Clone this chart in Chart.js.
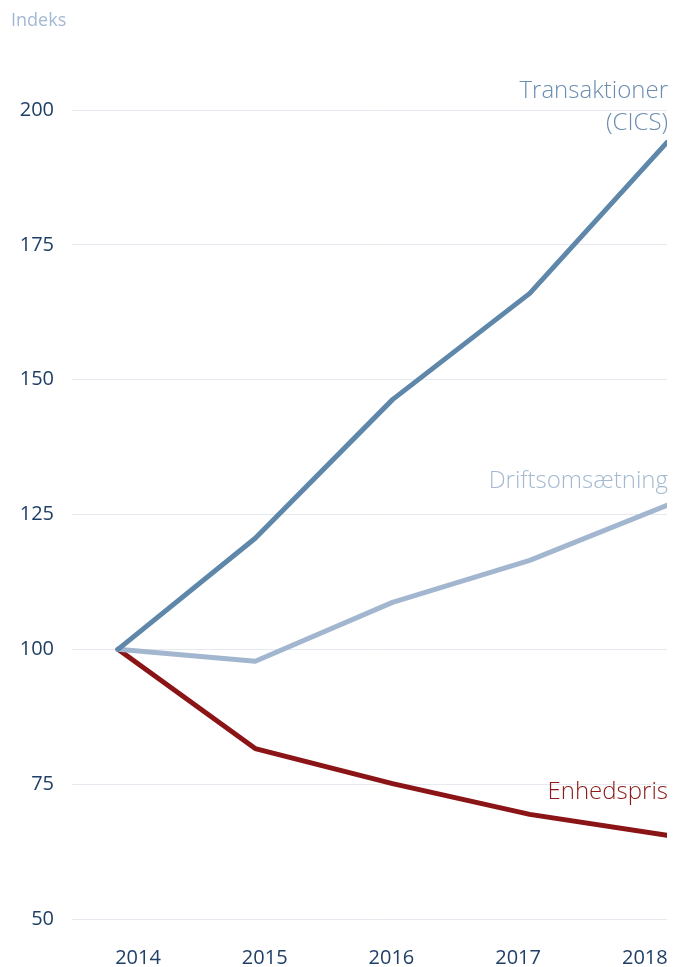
<!DOCTYPE html>
<html><head><meta charset="utf-8">
<script src="https://cdn.jsdelivr.net/npm/chart.js@4.4.0/dist/chart.umd.min.js"></script>
<style>html,body{margin:0;padding:0;background:#fff}#wrap{width:674px;height:967px;position:relative}</style>
</head><body><div id="wrap"><canvas id="c"></canvas></div>
<script>
const years = [2014, 2015, 2016, 2017, 2018];
const transaktioner = [100, 120.6, 146.3, 166.0, 194.0];
const driftsomsaetning = [100, 97.8, 108.7, 116.5, 126.7];
const enhedspris = [100, 81.6, 75.1, 69.4, 65.5];
const yTicks = [50, 75, 100, 125, 150, 175, 200];
const seriesLabels = [
  {lines: ['Transaktioner', '(CICS)'], values: [203.5, 197.5], color: '#6a8db0'},
  {lines: ['Driftsomsætning'], values: [131.2], color: '#a4b9d1'},
  {lines: ['Enhedspris'], values: [73.5], color: '#8b1a1a'}
];
const FONT = "'Open Sans', Roboto, sans-serif";

const pts = arr => arr.map((v, i) => ({x: years[i], y: v}));

const labelPlugin = {
  id: 'labels',
  afterDraw(chart) {
    const ctx = chart.ctx, y = chart.scales.y, area = chart.chartArea;
    ctx.save();
    ctx.font = "300 24px " + FONT;
    ctx.textAlign = 'right';
    ctx.textBaseline = 'middle';
    seriesLabels.forEach(s => {
      ctx.fillStyle = s.color;
      s.lines.forEach((t, i) => ctx.fillText(t, area.right + 1, y.getPixelForValue(s.values[i])));
    });
    ctx.fillStyle = '#a3b8d2';
    ctx.font = "18px " + FONT;
    ctx.textAlign = 'left';
    ctx.fillText('Indeks', 11, 21);
    ctx.restore();
  }
};

new Chart(document.getElementById('c'), {
  type: 'line',
  data: {
    datasets: [
      {data: pts(transaktioner), borderColor: '#5f87aa'},
      {data: pts(driftsomsaetning), borderColor: '#a2b7cf'},
      {data: pts(enhedspris), borderColor: '#8a1416'}
    ].map(d => Object.assign(d, {borderWidth: 5, pointRadius: 0, tension: 0, borderJoinStyle: 'round', borderCapStyle: 'round', fill: false}))
  },
  options: {
    responsive: true, maintainAspectRatio: false, animation: false,
    layout: {padding: {top: 110, right: 7, left: 0, bottom: 0}},
    plugins: {legend: {display: false}, tooltip: {enabled: false}},
    scales: {
      x: {type: 'linear', min: 2013.665, max: 2018, display: false},
      xl: {
        type: 'linear', position: 'bottom', min: 2013.479, max: 2018.175,
        grid: {display: false, drawTicks: false}, border: {display: false},
        afterBuildTicks: s => { s.ticks = years.map(v => ({value: v})); },
        afterFit: s => { s.height = 48; s.paddingLeft = 0; s.paddingRight = 0; },
        ticks: {padding: 27, color: '#1f3f66', font: {family: FONT, size: 20}, callback: v => String(v), maxRotation: 0, autoSkip: false}
      },
      y: {
        min: 50, max: 200,
        afterBuildTicks: s => { s.ticks = yTicks.map(v => ({value: v})); },
        afterFit: s => { s.width = 72; s.paddingTop = 0; s.paddingBottom = 0; },
        grid: {color: '#e6e9f0', lineWidth: 1, drawTicks: false}, border: {display: false},
        ticks: {padding: 18, color: '#1f3f66', font: {family: FONT, size: 20}}
      }
    }
  },
  plugins: [labelPlugin]
});
</script></body></html>
